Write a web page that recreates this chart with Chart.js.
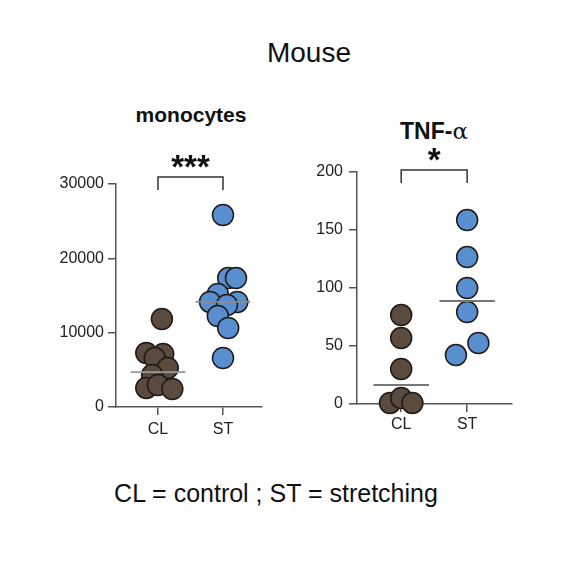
<!DOCTYPE html>
<html>
<head>
<meta charset="utf-8">
<script src="https://cdn.jsdelivr.net/npm/chart.js@4"></script>
<style>
  body { margin: 0; background: #fff; width: 576px; height: 566px; position: relative; overflow: hidden; font-family: "Liberation Sans", Arial, sans-serif; }
  .txt { position: absolute; color: #111; white-space: nowrap; transform: translateX(-50%); line-height: 1; }
</style>
</head>
<body>
<div class="txt" style="left:309px; top:39px; font-size:28px;">Mouse</div>
<div class="txt" style="left:191px; top:104px; font-size:21px; font-weight:bold;">monocytes</div>
<div class="txt" style="left:434px; top:120px; font-size:23px; font-weight:bold;">TNF-<span style="font-family:'DejaVu Serif',serif; font-weight:normal;">α</span></div>
<div class="txt" style="left:276px; top:481px; font-size:25px;">CL = control ; ST = stretching</div>

<div style="position:absolute; left:40px; top:95px; width:240px; height:350px;"><canvas id="monoChart"></canvas></div>
<div style="position:absolute; left:300px; top:95px; width:240px; height:350px;"><canvas id="tnfChart"></canvas></div>

<script>
// group labels
const groups = ['CL', 'ST'];

// monocytes (values and x jitter in category units)
const monoCL = [11840, 7260, 7130, 6590, 5250, 4300, 2560, 2960, 2420];
const monoCLx = [1.06, 0.82, 1.08, 0.95, 1.15, 0.91, 0.82, 1.0, 1.22];
const monoST = [25830, 17350, 17350, 15200, 14130, 14130, 13720, 12240, 10630, 6590];
const monoSTx = [2.0, 2.08, 2.2, 1.92, 2.22, 1.8, 2.06, 1.92, 2.08, 2.0];
const monoLines = [4700, 14130];
const monoTicks = [0, 10000, 20000, 30000];

// TNF-alpha
const tnfCL = [76.7, 56.9, 30.2, 0.9, 5.2, 0.9];
const tnfCLx = [1.0, 1.0, 1.0, 0.83, 1.0, 1.17];
const tnfST = [158.6, 126.7, 100, 79.3, 52.6, 42.2];
const tnfSTx = [2.0, 2.0, 2.0, 2.0, 2.17, 1.83];
const tnfLines = [16.4, 88.8];
const tnfTicks = [0, 50, 100, 150, 200];

const brown = '#5b4a3e';
const blue = '#5a8fcf';

function pts(xs, ys) {
    return ys.map((y, i) => ({ x: xs[i], y: y }));
}

function makeChart(id, cfg) {
    const ctx = document.getElementById(id).getContext('2d');
    const meanSets = cfg.lines.map((v, i) => ({
        type: 'line',
        data: [{ x: i + 1 - 0.42, y: v }, { x: i + 1 + 0.42, y: v }],
        borderColor: i === 0 ? cfg.lineCL : cfg.lineST,
        borderWidth: 1.8,
        pointRadius: 0,
        clip: false
    }));
    const dotStyle = {
        pointRadius: 10.5,
        borderColor: '#1f1a17',
        borderWidth: 1.5,
        clip: false
    };
    return new Chart(ctx, {
        type: 'scatter',
        data: {
            datasets: [
                meanSets[0], meanSets[1],
                Object.assign({ data: pts(cfg.clx, cfg.cl), backgroundColor: brown }, dotStyle),
                Object.assign({ data: pts(cfg.stx, cfg.st), backgroundColor: blue }, dotStyle)
            ]
        },
        options: {
            responsive: true,
            maintainAspectRatio: false,
            animation: false,
            events: [],
            layout: { padding: { top: cfg.padTop, right: cfg.padRight, left: 0, bottom: 0 } },
            plugins: { legend: { display: false }, tooltip: { enabled: false } },
            scales: {
                x: {
                    type: 'linear',
                    min: cfg.xmin,
                    max: cfg.xmax,
                    afterBuildTicks: axis => { axis.ticks = [{ value: 1 }, { value: 2 }]; },
                    afterFit: axis => { axis.height = cfg.xHeight; },
                    ticks: {
                        callback: v => groups[v - 1],
                        color: '#222',
                        font: { size: 16, family: 'Liberation Sans' },
                        padding: cfg.xPad,
                        maxRotation: 0
                    },
                    grid: { display: true, drawOnChartArea: false, drawTicks: true, tickLength: 8, color: '#555', lineWidth: 1.5 },
                    border: { display: true, color: '#555', width: 1.5 }
                },
                y: {
                    min: 0,
                    max: cfg.ymax,
                    afterBuildTicks: axis => { axis.ticks = cfg.ticks.map(v => ({ value: v })); },
                    afterFit: axis => { axis.width = cfg.yWidth; },
                    ticks: {
                        callback: v => String(v),
                        color: '#222',
                        font: { size: 16, family: 'Liberation Sans' },
                        padding: cfg.yPad
                    },
                    grid: { display: true, drawOnChartArea: false, drawTicks: true, tickLength: 8, color: '#555', lineWidth: 1.5 },
                    border: { display: true, color: '#555', width: 1.5 }
                }
            }
        },
        plugins: [{
            id: 'bracket',
            afterDraw(chart) {
                const c = chart.ctx;
                const xs = chart.scales.x, ys = chart.scales.y;
                const x1 = xs.getPixelForValue(1), x2 = xs.getPixelForValue(2);
                const yt = ys.getPixelForValue(cfg.bracketTop);
                const yb = ys.getPixelForValue(cfg.bracketBottom);
                c.save();
                c.strokeStyle = '#333';
                c.lineWidth = 1.5;
                c.beginPath();
                c.moveTo(x1, yb); c.lineTo(x1, yt); c.lineTo(x2, yt); c.lineTo(x2, yb);
                c.stroke();
                c.fillStyle = '#111';
                c.font = 'bold 33px "Liberation Sans"';
                c.textAlign = 'center';
                c.textBaseline = 'alphabetic';
                c.fillText(cfg.stars, (x1 + x2) / 2, yt - cfg.starGap);
                c.restore();
            }
        }]
    });
}

makeChart('monoChart', {
    cl: monoCL, clx: monoCLx, st: monoST, stx: monoSTx, lines: monoLines,
    lineCL: '#9a9a9a', lineST: '#8a8a8a',
    ticks: monoTicks, ymax: 30000, xmin: 0.354, xmax: 2.6,
    padTop: 89, padRight: 18, yWidth: 76, xHeight: 38, xPad: 5, yPad: 4,
    bracketTop: 30940, bracketBottom: 29200, stars: '***', starGap: -1
});

makeChart('tnfChart', {
    cl: tnfCL, clx: tnfCLx, st: tnfST, stx: tnfSTx, lines: tnfLines,
    lineCL: '#777', lineST: '#777',
    ticks: tnfTicks, ymax: 200, xmin: 0.33, xmax: 2.68,
    padTop: 77, padRight: 28, yWidth: 57, xHeight: 41, xPad: 3, yPad: 6,
    bracketTop: 201.7, bracketBottom: 190.5, stars: '*', starGap: -1
});
</script>
</body>
</html>
